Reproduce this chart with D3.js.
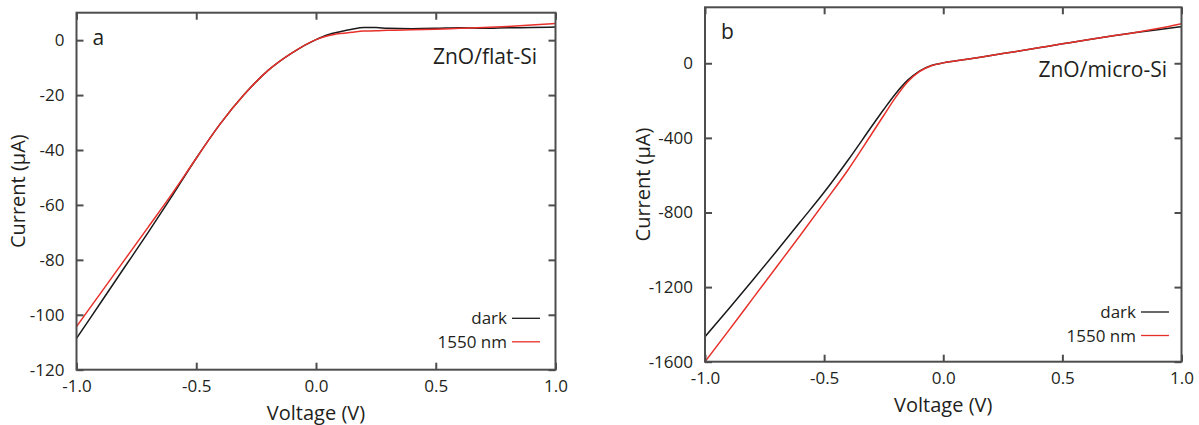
<!DOCTYPE html>
<html>
<head>
<meta charset="utf-8">
<script src="https://cdn.jsdelivr.net/npm/d3@7"></script>
<style>
  html, body { margin: 0; padding: 0; background: #ffffff; }
  svg { display: block; font-family: "Open Sans", "Noto Sans", sans-serif; }
</style>
</head>
<body>
<svg id="chart" width="1199" height="425"></svg>
<script>
// ---------- data ----------
const voltA = [-1.0,-0.9,-0.8,-0.7,-0.6,-0.5,-0.4,-0.3,-0.2,-0.1,0.0,0.05,0.1,0.15,0.2,0.25,0.3,0.4,0.5,0.6,0.7,0.8,0.9,1.0];
const darkA = [-108.6,-95.7,-82.8,-69.9,-56.6,-43.0,-30.5,-19.8,-11.0,-4.6,0.2,2.0,3.1,4.0,4.6,4.6,4.3,4.2,4.3,4.5,4.3,4.5,4.6,4.8];
const lightA = [-104.3,-92.2,-80.1,-68.0,-55.8,-43.0,-30.5,-19.8,-11.0,-4.6,0.2,1.6,2.4,2.9,3.3,3.4,3.6,3.8,4.0,4.3,4.6,5.0,5.5,6.1];

const voltB = [-1.0,-0.9,-0.8,-0.7,-0.6,-0.5,-0.4,-0.3,-0.25,-0.2,-0.15,-0.1,-0.05,0.0,0.1,0.2,0.3,0.4,0.5,0.6,0.7,0.8,0.9,1.0];
const darkB = [-1466,-1316,-1163,-1008,-850,-692,-520,-338,-248,-163,-92,-42,-12,2,21,42,62,83,104,125,145,163,180,196];
const lightB = [-1600,-1432,-1262,-1092,-922,-748,-572,-378,-280,-183,-100,-45,-13,2,21,42,62,83,104,125,145,164,186,212];

const xTicks = [-1.0,-0.5,0.0,0.5,1.0];
const yTicksA = [0,-20,-40,-60,-80,-100,-120];
const yTicksB = [0,-400,-800,-1200,-1600];
const seriesNames = ["dark","1550 nm"];
const panelLabels = ["a","b"];
const sampleNames = ["ZnO/flat-Si","ZnO/micro-Si"];

// ---------- styles ----------
const TEXT = "#231f20", FRAME = "#4d4d4d", DARK = "#1a1a1a", RED = "#e8302a";

const svg = d3.select("#chart");

function panel(cfg) {
  const g = svg.append("g");
  const x = d3.scaleLinear().domain([-1, 1]).range([cfg.left, cfg.right]);
  const y = d3.scaleLinear().domain(cfg.yDomain).range([cfg.bottom, cfg.top]);

  // curves
  const line = d3.line().x(d => x(d[0])).y(d => y(d[1])).curve(d3.curveMonotoneX);
  const clipId = "clip" + cfg.id;
  svg.append("clipPath").attr("id", clipId).append("rect")
    .attr("x", cfg.left).attr("y", cfg.top)
    .attr("width", cfg.right - cfg.left).attr("height", cfg.bottom - cfg.top);
  g.append("path").datum(d3.zip(cfg.volt, cfg.dark))
    .attr("d", line).attr("fill", "none").attr("stroke", DARK).attr("stroke-width", 1.5)
    .attr("clip-path", `url(#${clipId})`);
  g.append("path").datum(d3.zip(cfg.volt, cfg.light))
    .attr("d", line).attr("fill", "none").attr("stroke", RED).attr("stroke-width", 1.5)
    .attr("clip-path", `url(#${clipId})`);

  // axes (ticks inward on all sides)
  const fmtX = d3.format(".1f");
  const bottomAxis = d3.axisBottom(x).tickValues(xTicks).tickSizeInner(-7).tickSizeOuter(0)
    .tickPadding(10).tickFormat(d => fmtX(d).replace("−", "-"));
  const topAxis = d3.axisTop(x).tickValues(xTicks).tickSizeInner(-7).tickSizeOuter(0).tickFormat("");
  const leftAxis = d3.axisLeft(y).tickValues(cfg.yTicks).tickSizeInner(-7).tickSizeOuter(0)
    .tickPadding(12).tickFormat(d => String(d));
  const rightAxis = d3.axisRight(y).tickValues(cfg.yTicks).tickSizeInner(-7).tickSizeOuter(0).tickFormat("");

  const axes = [
    g.append("g").attr("transform", `translate(0,${cfg.bottom})`).call(bottomAxis),
    g.append("g").attr("transform", `translate(0,${cfg.top})`).call(topAxis),
    g.append("g").attr("transform", `translate(${cfg.left},0)`).call(leftAxis),
    g.append("g").attr("transform", `translate(${cfg.right},0)`).call(rightAxis)
  ];
  axes.forEach(a => {
    a.select(".domain").remove();
    a.selectAll(".tick line").attr("stroke", FRAME).attr("stroke-width", 2);
    a.selectAll(".tick text").attr("fill", TEXT).attr("font-size", 17)
      .attr("font-family", "'Open Sans', sans-serif");
  });

  // frame
  g.append("rect").attr("x", cfg.left).attr("y", cfg.top)
    .attr("width", cfg.right - cfg.left).attr("height", cfg.bottom - cfg.top)
    .attr("fill", "none").attr("stroke", FRAME).attr("stroke-width", 2);

  // axis titles
  g.append("text").attr("x", (cfg.left + cfg.right) / 2).attr("y", cfg.bottom + 50)
    .attr("text-anchor", "middle").attr("fill", TEXT).attr("font-size", 20).text("Voltage (V)");
  g.append("text")
    .attr("transform", `translate(${cfg.yTitleX},${(cfg.top + cfg.bottom) / 2}) rotate(-90)`)
    .attr("text-anchor", "middle").attr("fill", TEXT).attr("font-size", 20).text("Current (µA)");

  // panel letter and sample name
  g.append("text").attr("x", cfg.left + 16).attr("y", cfg.letterY)
    .attr("fill", TEXT).attr("font-size", 21).text(cfg.letter);
  g.append("text").attr("x", cfg.sampleX).attr("y", cfg.sampleY).attr("text-anchor", "end")
    .attr("fill", TEXT).attr("font-size", 21).text(cfg.sample);

  // legend
  [0, 1].forEach(i => {
    const ly = cfg.legendY + i * 23.5;
    g.append("text").attr("x", cfg.legendX - 5).attr("y", ly + 6).attr("text-anchor", "end")
      .attr("fill", TEXT).attr("font-size", 17).text(seriesNames[i]);
    g.append("line").attr("x1", cfg.legendX).attr("x2", cfg.legendX + 28)
      .attr("y1", ly).attr("y2", ly)
      .attr("stroke", i === 0 ? DARK : RED).attr("stroke-width", 1.3);
  });
}

panel({
  id: "a", left: 76.5, right: 555.5, top: 12.7, bottom: 369.7, yDomain: [-120, 10],
  volt: voltA, dark: darkA, light: lightA, yTicks: yTicksA, yTitleX: 25,
  letter: panelLabels[0], letterY: 45, sample: sampleNames[0], sampleX: 537, sampleY: 64,
  legendX: 512, legendY: 318.3
});
panel({
  id: "b", left: 705, right: 1181.5, top: 7.3, bottom: 361.7, yDomain: [-1600, 300],
  volt: voltB, dark: darkB, light: lightB, yTicks: yTicksB, yTitleX: 650,
  letter: panelLabels[1], letterY: 39, sample: sampleNames[1], sampleX: 1167, sampleY: 77,
  legendX: 1141, legendY: 312
});
</script>
</body>
</html>
